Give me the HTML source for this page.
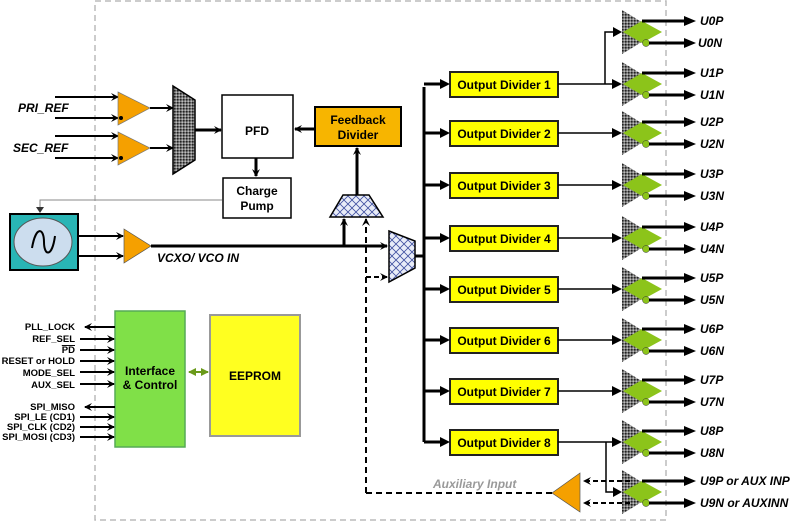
<!DOCTYPE html>
<html><head><meta charset="utf-8"><style>
html,body{margin:0;padding:0;background:#fff;}
svg{display:block;font-family:"Liberation Sans",Arial,sans-serif;}
.b{font-weight:bold;}
.lbl{font-weight:bold;font-style:italic;font-size:12px;}
.sig{font-weight:bold;font-size:9.5px;text-anchor:end;}
.div{font-weight:bold;font-size:12px;text-anchor:middle;}
</style></head><body>
<svg width="800" height="522" viewBox="0 0 800 522" xmlns="http://www.w3.org/2000/svg">
<defs>
<marker id="a" markerWidth="8" markerHeight="8" refX="7" refY="4" orient="auto" markerUnits="userSpaceOnUse"><path d="M0,0 L8,4 L0,8 L3,4 z" fill="#000"/></marker>
<marker id="ag" markerWidth="8" markerHeight="8" refX="7" refY="4" orient="auto-start-reverse" markerUnits="userSpaceOnUse"><path d="M0,0 L8,4 L0,8 z" fill="#6a9a1a"/></marker>
<pattern id="chk" width="3" height="3" patternUnits="userSpaceOnUse"><rect width="3" height="3" fill="#777"/><rect width="1.5" height="1.5" fill="#222"/><rect x="1.5" y="1.5" width="1.5" height="1.5" fill="#bbb"/></pattern>
<pattern id="xx" width="8" height="8" patternUnits="userSpaceOnUse"><rect width="8" height="8" fill="#e8ecf8"/><path d="M0,0 L8,8 M8,0 L0,8" stroke="#4050a0" stroke-width="0.8"/></pattern>
<g id="drv">
<path d="M0,-22 L36,0 L0,22 z" fill="url(#chk)"/>
<path d="M1,0 L20,-11 L40,0 L20,11 z" fill="#8cc41a"/>
<circle cx="24" cy="11" r="3.5" fill="#8cc41a" stroke="#333" stroke-width="0.5"/>
<line x1="20" y1="-11" x2="68" y2="-11" stroke="#000" stroke-width="3"/>
<line x1="27" y1="11" x2="68" y2="11" stroke="#000" stroke-width="3"/>
<path d="M62,-16 L74,-11 L62,-6 z" fill="#000"/>
<path d="M62,6 L74,11 L62,16 z" fill="#000"/>
</g>
<g id="dv">
<rect x="450" y="-12" width="108" height="25" fill="#ffff00" stroke="#222" stroke-width="2"/>
<line x1="424" y1="0" x2="444" y2="0" stroke="#000" stroke-width="3"/>
<path d="M440,-5 L450,0 L440,5 z" fill="#000"/>
<line x1="558" y1="0" x2="614" y2="0" stroke="#000" stroke-width="1.5"/>
<path d="M612,-5 L622,0 L612,5 z" fill="#000"/>
</g>
</defs>

<rect x="95" y="1" width="571" height="519" fill="none" stroke="#bbb" stroke-width="1.5" stroke-dasharray="6,4"/>

<g stroke="#000" stroke-width="2" fill="none" marker-end="url(#a)">
<line x1="55" y1="97" x2="118" y2="97"/><line x1="55" y1="118" x2="118" y2="118"/>
<line x1="55" y1="136" x2="118" y2="136"/><line x1="55" y1="158" x2="118" y2="158"/>
</g>
<path d="M118,92 L150,108 L118,125 z" fill="#f5a000" stroke="#777" stroke-width="0.7"/>
<path d="M118,132 L150,148 L118,165 z" fill="#f5a000" stroke="#777" stroke-width="0.7"/>
<circle cx="121" cy="118" r="2" fill="#000"/><circle cx="121" cy="158" r="2" fill="#000"/>
<text x="18" y="112" class="lbl">PRI_REF</text>
<text x="13" y="152" class="lbl">SEC_REF</text>
<g stroke="#000" stroke-width="2" marker-end="url(#a)">
<line x1="150" y1="108" x2="173" y2="108"/><line x1="150" y1="148" x2="173" y2="148"/>
<line x1="195" y1="130" x2="221" y2="130" stroke-width="3"/>
</g>
<path d="M173,86 L195,100 L195,160 L173,174 z" fill="url(#chk)" stroke="#000" stroke-width="1.5"/>

<rect x="222" y="95" width="71" height="63" fill="#fff" stroke="#000" stroke-width="1.5"/>
<text x="257" y="135" text-anchor="middle" class="b" font-size="12">PFD</text>
<line x1="256" y1="158" x2="256" y2="176" stroke="#000" stroke-width="3" marker-end="url(#a)"/>
<rect x="223" y="178" width="68" height="40" fill="#fff" stroke="#000" stroke-width="1.5"/>
<text x="257" y="195" text-anchor="middle" class="b" font-size="12">Charge</text>
<text x="257" y="210" text-anchor="middle" class="b" font-size="12">Pump</text>
<rect x="315" y="107" width="86" height="39" fill="#f7b500" stroke="#000" stroke-width="2"/>
<text x="358" y="124" text-anchor="middle" class="b" font-size="12">Feedback</text>
<text x="358" y="139" text-anchor="middle" class="b" font-size="12">Divider</text>
<line x1="315" y1="129" x2="295" y2="129" stroke="#000" stroke-width="3" marker-end="url(#a)"/>
<line x1="357" y1="195" x2="357" y2="148" stroke="#000" stroke-width="3" marker-end="url(#a)"/>
<path d="M343,195 L369,195 L383,217 L330,217 z" fill="url(#xx)" stroke="#000" stroke-width="1.5"/>

<polyline points="222,200 40,200 40,211" fill="none" stroke="#888" stroke-width="1"/>
<path d="M36,207 L40,213 L44,207 z" fill="#333"/>
<rect x="10" y="214" width="68" height="56" fill="#29b5b5" stroke="#000" stroke-width="2"/>
<ellipse cx="43" cy="242" rx="29" ry="24" fill="#cde" stroke="#555"/>
<path d="M32,248 C36,225 44,228 44,242 C44,256 52,258 55,236" fill="none" stroke="#000" stroke-width="2"/>
<g stroke="#000" stroke-width="2" marker-end="url(#a)">
<line x1="78" y1="236" x2="123" y2="236"/><line x1="78" y1="256" x2="123" y2="256"/>
</g>
<path d="M124,229 L151,246 L124,263 z" fill="#f5a000" stroke="#555" stroke-width="0.7"/>
<text x="157" y="262" class="lbl" font-size="11">VCXO/ VCO IN</text>
<line x1="151" y1="246" x2="387" y2="246" stroke="#000" stroke-width="3" marker-end="url(#a)"/>
<line x1="344" y1="246" x2="344" y2="219" stroke="#000" stroke-width="3" marker-end="url(#a)"/>
<line x1="366" y1="493" x2="366" y2="219" stroke="#000" stroke-width="2" stroke-dasharray="6,4" marker-end="url(#a)"/>
<line x1="366" y1="277" x2="387" y2="277" stroke="#000" stroke-width="2" stroke-dasharray="5,3" marker-end="url(#a)"/>
<path d="M389,231 L415,241 L415,268 L389,282 z" fill="url(#xx)" stroke="#000" stroke-width="1.5"/>
<line x1="415" y1="256" x2="424" y2="256" stroke="#000" stroke-width="3"/>
<path d="M424,87 L424,442" fill="none" stroke="#000" stroke-width="3"/>

<use href="#dv" y="84"/><use href="#dv" y="133"/><use href="#dv" y="185"/><use href="#dv" y="238"/>
<use href="#dv" y="289"/><use href="#dv" y="340"/><use href="#dv" y="391"/><use href="#dv" y="442"/>
<text x="504" y="89" class="div">Output Divider 1</text>
<text x="504" y="138" class="div">Output Divider 2</text>
<text x="504" y="190" class="div">Output Divider 3</text>
<text x="504" y="243" class="div">Output Divider 4</text>
<text x="504" y="294" class="div">Output Divider 5</text>
<text x="504" y="345" class="div">Output Divider 6</text>
<text x="504" y="396" class="div">Output Divider 7</text>
<text x="504" y="447" class="div">Output Divider 8</text>
<polyline points="605,84 605,32 618,32" fill="none" stroke="#000" stroke-width="1.5"/>
<path d="M613,27 L622,32 L613,37 z" fill="#000"/>
<polyline points="606,442 606,492 618,492" fill="none" stroke="#000" stroke-width="1.5"/>
<path d="M613,487 L622,492 L613,497 z" fill="#000"/>

<use href="#drv" x="622" y="32"/><use href="#drv" x="622" y="84"/><use href="#drv" x="622" y="133"/>
<use href="#drv" x="622" y="185"/><use href="#drv" x="622" y="238"/><use href="#drv" x="622" y="289"/>
<use href="#drv" x="622" y="340"/><use href="#drv" x="622" y="391"/><use href="#drv" x="622" y="442"/>
<use href="#drv" x="622" y="492"/>
<g class="lbl">
<text x="700" y="25">U0P</text><text x="698" y="47">U0N</text>
<text x="700" y="77">U1P</text><text x="700" y="99">U1N</text>
<text x="700" y="126">U2P</text><text x="700" y="148">U2N</text>
<text x="700" y="178">U3P</text><text x="700" y="200">U3N</text>
<text x="700" y="231">U4P</text><text x="700" y="253">U4N</text>
<text x="700" y="282">U5P</text><text x="700" y="304">U5N</text>
<text x="700" y="333">U6P</text><text x="700" y="355">U6N</text>
<text x="700" y="384">U7P</text><text x="700" y="406">U7N</text>
<text x="700" y="435">U8P</text><text x="700" y="457">U8N</text>
<text x="700" y="485">U9P or AUX INP</text><text x="700" y="507">U9N or AUXINN</text>
</g>

<path d="M580,473 L580,512 L552,493 z" fill="#f5a000" stroke="#555" stroke-width="0.7"/>
<line x1="552" y1="493" x2="366" y2="493" stroke="#000" stroke-width="2" stroke-dasharray="6,4"/>
<line x1="630" y1="481" x2="584" y2="481" stroke="#000" stroke-width="2" stroke-dasharray="5,3" marker-end="url(#a)"/>
<line x1="630" y1="503" x2="584" y2="503" stroke="#000" stroke-width="2" stroke-dasharray="5,3" marker-end="url(#a)"/>
<text x="433" y="488" font-size="12" font-style="italic" font-weight="bold" fill="#999">Auxiliary Input</text>

<rect x="115" y="311" width="70" height="136" fill="#80e048" stroke="#5a5" stroke-width="1.5"/>
<text x="150" y="375" text-anchor="middle" class="b" font-size="12">Interface</text>
<text x="150" y="389" text-anchor="middle" class="b" font-size="12">&amp; Control</text>
<rect x="210" y="315" width="90" height="121" fill="#ffff20" stroke="#999" stroke-width="2"/>
<text x="255" y="380" text-anchor="middle" class="b" font-size="12">EEPROM</text>
<line x1="189" y1="372" x2="208" y2="372" stroke="#6a9a1a" stroke-width="2" marker-end="url(#ag)" marker-start="url(#ag)"/>
<g class="sig">
<text x="75" y="330">PLL_LOCK</text><text x="75" y="342">REF_SEL</text>
<text x="75" y="353" text-decoration="overline">PD</text><text x="75" y="364">RESET or HOLD</text>
<text x="75" y="376">MODE_SEL</text><text x="75" y="388">AUX_SEL</text>
<text x="75" y="410">SPI_MISO</text><text x="75" y="420">SPI_LE (CD1)</text>
<text x="75" y="430">SPI_CLK (CD2)</text><text x="75" y="440">SPI_MOSI (CD3)</text>
</g>
<g stroke="#000" stroke-width="2" marker-end="url(#a)">
<line x1="115" y1="327" x2="85" y2="327"/>
<line x1="80" y1="339" x2="114" y2="339"/><line x1="80" y1="350" x2="114" y2="350"/>
<line x1="80" y1="361" x2="114" y2="361"/><line x1="80" y1="372" x2="114" y2="372"/>
<line x1="80" y1="384" x2="114" y2="384"/>
<line x1="115" y1="407" x2="85" y2="407"/>
<line x1="80" y1="417" x2="114" y2="417"/><line x1="80" y1="427" x2="114" y2="427"/>
<line x1="80" y1="437" x2="114" y2="437"/>
</g>
</svg>
</body></html>
